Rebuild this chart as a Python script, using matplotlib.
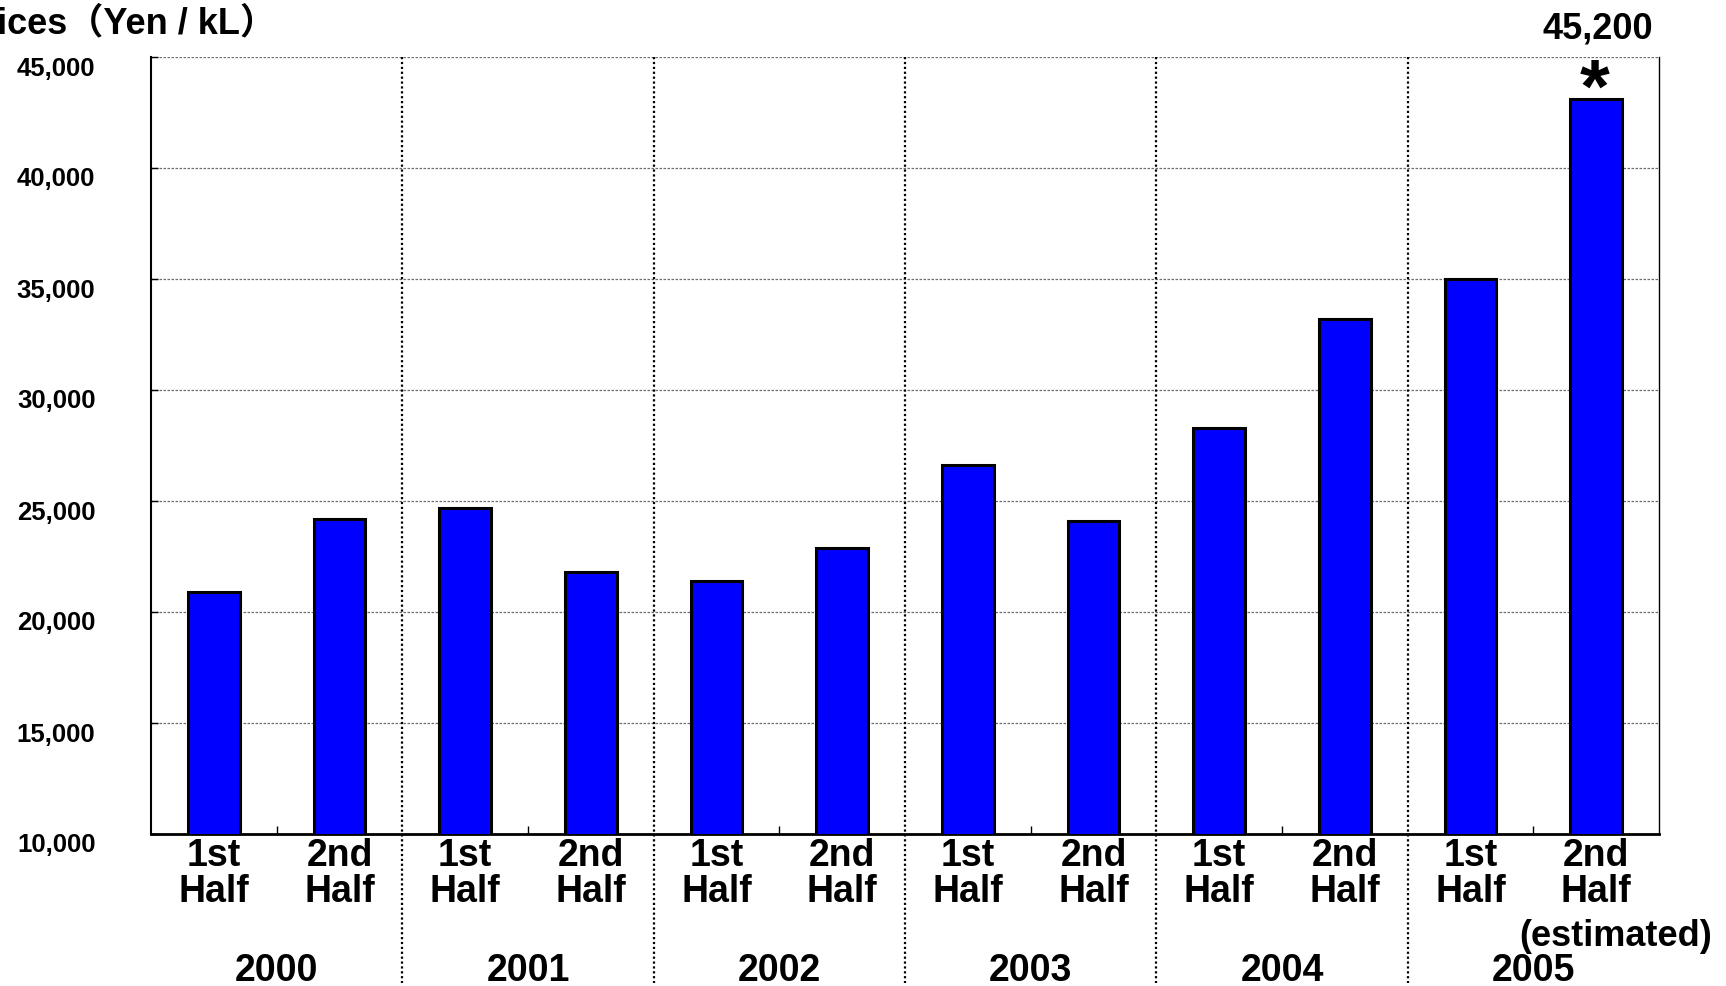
import matplotlib
matplotlib.use('Agg')
import matplotlib.pyplot as plt
from matplotlib.transforms import ScaledTranslation, blended_transform_factory
import numpy as np

plt.rcParams['font.family'] = ['Liberation Sans', 'Noto Sans CJK JP', 'DejaVu Sans']

# ---- data ----
years = ['2000', '2001', '2002', '2003', '2004', '2005']
half_labels = ['1st\nHalf', '2nd\nHalf'] * 6
prices = [20900, 24200, 24700, 21800, 21400, 22900,
          26600, 24100, 28300, 33200, 35000, 43100]
estimate_value_label = '45,200'
estimate_note = '(estimated)'
yticks = [10000, 15000, 20000, 25000, 30000, 35000, 40000, 45000]
ytick_labels = ['10,000', '15,000', '20,000', '25,000', '30,000', '35,000', '40,000', '45,000']
title = 'Prices（Yen / kL）'

W, H = 1726, 986
fig = plt.figure(figsize=(W / 100, H / 100), dpi=100)
ax = fig.add_axes([151 / W, (H - 834) / H, 1508 / W, 777 / H])

x = np.arange(len(prices))
ax.bar(x, prices, width=0.41, color='#0000FF', edgecolor='black', linewidth=2.2, zorder=3)

ax.set_xlim(-0.5, len(prices) - 0.5)
ax.set_ylim(yticks[0], yticks[-1])

# grid
ax.set_yticks(yticks)
ax.set_yticklabels(ytick_labels, fontsize=18.5, fontweight='bold')
ax.yaxis.grid(True, color='#6e6e6e', linestyle=(0, (2, 1.2)), linewidth=0.9)
ax.set_axisbelow(True)

ax.tick_params(axis='y', direction='in', length=5, width=1, pad=40)
for lab in ax.get_yticklabels():
    lab.set_transform(lab.get_transform() + ScaledTranslation(0, -9 / 100, fig.dpi_scale_trans))

ax.set_xticks(x)
ax.set_xticklabels(half_labels, fontsize=27, fontweight='bold', linespacing=0.98)
ax.tick_params(axis='x', which='major', length=0, pad=3)
ax.set_xticks(np.arange(0.5, len(prices), 2), minor=True)
ax.tick_params(axis='x', which='minor', direction='in', length=6, width=1)

ax.spines['top'].set_visible(False)
ax.spines['left'].set_linewidth(1.5)
ax.spines['bottom'].set_linewidth(2)
ax.spines['right'].set_linewidth(1)

# year separators
blend = blended_transform_factory(ax.transData, ax.transAxes)
for xs in np.arange(1.5, len(prices) - 1, 2):
    ax.plot([xs, xs], [1, -0.192], transform=blend, clip_on=False,
            color='black', linestyle=(0, (1, 1.2)), linewidth=1.6, zorder=4)

# year labels
for i, yr in enumerate(years):
    ax.annotate(yr, xy=(2 * i + 0.5, 0), xycoords=('data', 'axes fraction'),
                xytext=(0, -105.5), textcoords='offset points',
                ha='center', va='baseline', fontsize=27, fontweight='bold',
                annotation_clip=False)

# estimated note
ax.annotate(estimate_note, xy=(x[-1], 0), xycoords=('data', 'axes fraction'),
            xytext=(14, -61), textcoords='offset points',
            ha='center', va='top', fontsize=26, fontweight='bold', annotation_clip=False)

# estimate value label and asterisk
ax.annotate(estimate_value_label, xy=(x[-1], yticks[-1]), xycoords='data',
            xytext=(1, 13), textcoords='offset points',
            ha='center', va='baseline', fontsize=26, fontweight='bold', annotation_clip=False)
ax.annotate('*', xy=(x[-1], prices[-1]), xycoords='data',
            xytext=(-1, -9), textcoords='offset points',
            ha='center', va='baseline', fontsize=55, fontweight='bold', annotation_clip=False)

fig.text(276 / W, 1 - 33 / H, title, ha='right', va='baseline', fontsize=26, fontweight='bold')

fig.savefig('out.png', dpi=100)
